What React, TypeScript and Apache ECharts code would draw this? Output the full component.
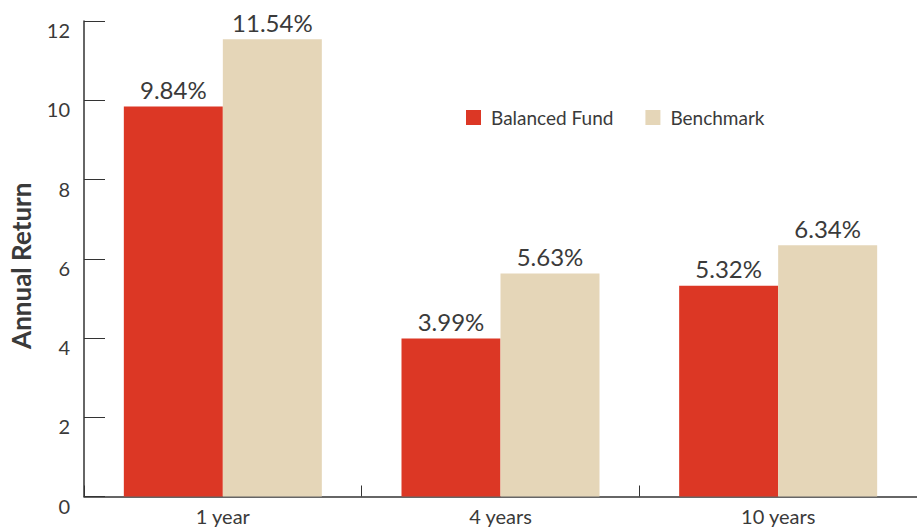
import React, { useEffect, useRef } from "react";
import * as echarts from "echarts";

const categories = ["1 year", "4 years", "10 years"];
const balancedFund = [9.84, 3.99, 5.32];
const benchmark = [11.54, 5.63, 6.34];
const seriesNames = ["Balanced Fund", "Benchmark"];
const yTicks = { min: 0, max: 12, interval: 2 };

const FONT = "Lato, 'Open Sans', sans-serif";
const TEXT = "#3a3a3a";
const AXIS = "#333333";

export default function App() {
  const ref = useRef<HTMLDivElement>(null);
  useEffect(() => {
    if (!ref.current) return;
    const chart = echarts.init(ref.current, null, { renderer: "svg" });
    const label = {
      show: true,
      position: "top",
      distance: 5,
      color: TEXT,
      fontFamily: FONT,
      fontSize: 24,
      formatter: (p: any) => p.value.toFixed(2) + "%",
    };
    chart.setOption({
      animation: false,
      textStyle: { fontFamily: FONT },
      legend: {
        left: 466,
        top: 108,
        padding: 0,
        itemWidth: 15,
        itemHeight: 15,
        itemGap: 32,
        icon: "rect",
        textStyle: { fontFamily: FONT, fontSize: 19, color: TEXT, padding: [0, 0, 0, 5] },
        data: seriesNames,
      },
      grid: { left: 82, top: 21, width: 840, height: 475.5 },
      xAxis: {
        type: "category",
        data: categories,
        axisLine: { lineStyle: { color: AXIS, width: 1.5 } },
        axisTick: { show: true, inside: true, length: 11, lineStyle: { color: AXIS } },
        axisLabel: {
          color: TEXT,
          fontFamily: FONT,
          fontSize: 20,
          margin: 11,
          lineHeight: 16,
        },
      },
      yAxis: {
        type: "value",
        min: yTicks.min,
        max: yTicks.max,
        interval: yTicks.interval,
        name: "Annual Return",
        nameLocation: "middle",
        nameGap: 50,
        nameTextStyle: {
          fontFamily: FONT,
          fontSize: 26,
          fontWeight: "bold",
          color: TEXT,
          padding: [0, 14, 0, 0],
        },
        axisLine: { show: true, lineStyle: { color: AXIS, width: 1.5 } },
        axisTick: { show: true, inside: true, length: 21, lineStyle: { color: AXIS } },
        axisLabel: {
          color: TEXT,
          fontFamily: FONT,
          fontSize: 20,
          margin: 14,
          verticalAlign: "top",
          lineHeight: 18,
        },
        splitLine: { show: false },
      },
      series: [
        {
          name: seriesNames[0],
          type: "bar",
          data: balancedFund,
          barWidth: 99,
          barGap: "0%",
          itemStyle: { color: "#DC3725" },
          label,
        },
        {
          name: seriesNames[1],
          type: "bar",
          data: benchmark,
          barWidth: 99,
          itemStyle: { color: "#E5D6B8" },
          label,
        },
      ],
    });
    return () => chart.dispose();
  }, []);
  return (
    <div
      ref={ref}
      style={{ position: "fixed", left: 0, top: 0, width: 917, height: 527, background: "#fff" }}
    />
  );
}
